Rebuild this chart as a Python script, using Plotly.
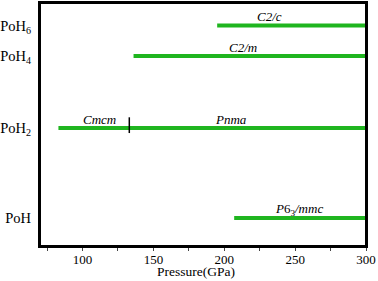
import plotly.graph_objects as go

# Compounds and their y positions on the chart
compounds = ["PoH", "PoH<sub>2</sub>", "PoH<sub>4</sub>", "PoH<sub>6</sub>"]
compound_y = [1.0, 2.0, 2.8, 3.14]

# Phase stability ranges (GPa)
phase_names = ["<i>C2/c</i>", "<i>C2/m</i>", "<i>Cmcm</i>", "<i>Pnma</i>", "<i>P</i>6<sub>3</sub><i>/mmc</i>"]
phase_compound = [3, 2, 1, 1, 0]
phase_start = [195, 136, 83, 133, 207]
phase_end = [300, 300, 133, 300, 300]
label_x = [232, 213, 112, 205, 253]

# Transition marker on PoH2
transition_p = [133]
transition_compound = [1]

x_ticks = [100, 150, 200, 250, 300]

green = "#1fb51f"
fig = go.Figure()
for i in range(len(phase_names)):
    yv = compound_y[phase_compound[i]]
    fig.add_trace(go.Scatter(x=[phase_start[i], phase_end[i]], y=[yv, yv], mode="lines",
                             line=dict(color=green, width=4), showlegend=False, hoverinfo="skip"))
    fig.add_annotation(x=label_x[i], y=yv, text=phase_names[i], showarrow=False, yshift=9,
                       font=dict(family="Liberation Serif", size=13, color="black"))
for p, c in zip(transition_p, transition_compound):
    yv = compound_y[c]
    fig.add_trace(go.Scatter(x=[p, p], y=[yv - 0.055, yv + 0.12], mode="lines",
                             line=dict(color="black", width=1.5), showlegend=False, hoverinfo="skip"))

fig.update_layout(
    width=378, height=281,
    margin=dict(l=40, r=12, t=3, b=35),
    paper_bgcolor="white", plot_bgcolor="white",
    font=dict(family="Liberation Serif", size=12, color="black"),
    xaxis=dict(range=[70, 300], tickvals=x_ticks, ticks="outside", ticklen=3, tickwidth=1.2,
               minor=dict(tickvals=[75, 125, 175, 225, 275], ticks="outside", ticklen=3, tickwidth=1.2),
               showline=True, linecolor="black", linewidth=2, mirror=True, showgrid=False,
               zeroline=False, tickfont=dict(size=13), automargin=False, ticklabelstandoff=-3),
    yaxis=dict(range=[0.69, 3.39], tickvals=compound_y, ticktext=compounds, ticks="",
               showline=True, linecolor="black", linewidth=2, mirror=True, showgrid=False,
               zeroline=False, tickfont=dict(size=14.5), automargin=False, ticklabelstandoff=4),
)
fig.add_shape(type="rect", xref="paper", yref="paper", x0=0, y0=0, x1=1, y1=1,
              line=dict(color="black", width=2), layer="above")
fig.add_annotation(xref="paper", yref="paper", x=(196 - 40) / 326, y=0, yshift=-35,
                   text="Pressure(GPa)", showarrow=False, yanchor="bottom",
                   font=dict(family="Liberation Serif", size=13.5))
fig.write_html("out.html", config={"displayModeBar": False},
               post_script="document.body.style.margin='0';document.body.style.overflow='hidden';")
